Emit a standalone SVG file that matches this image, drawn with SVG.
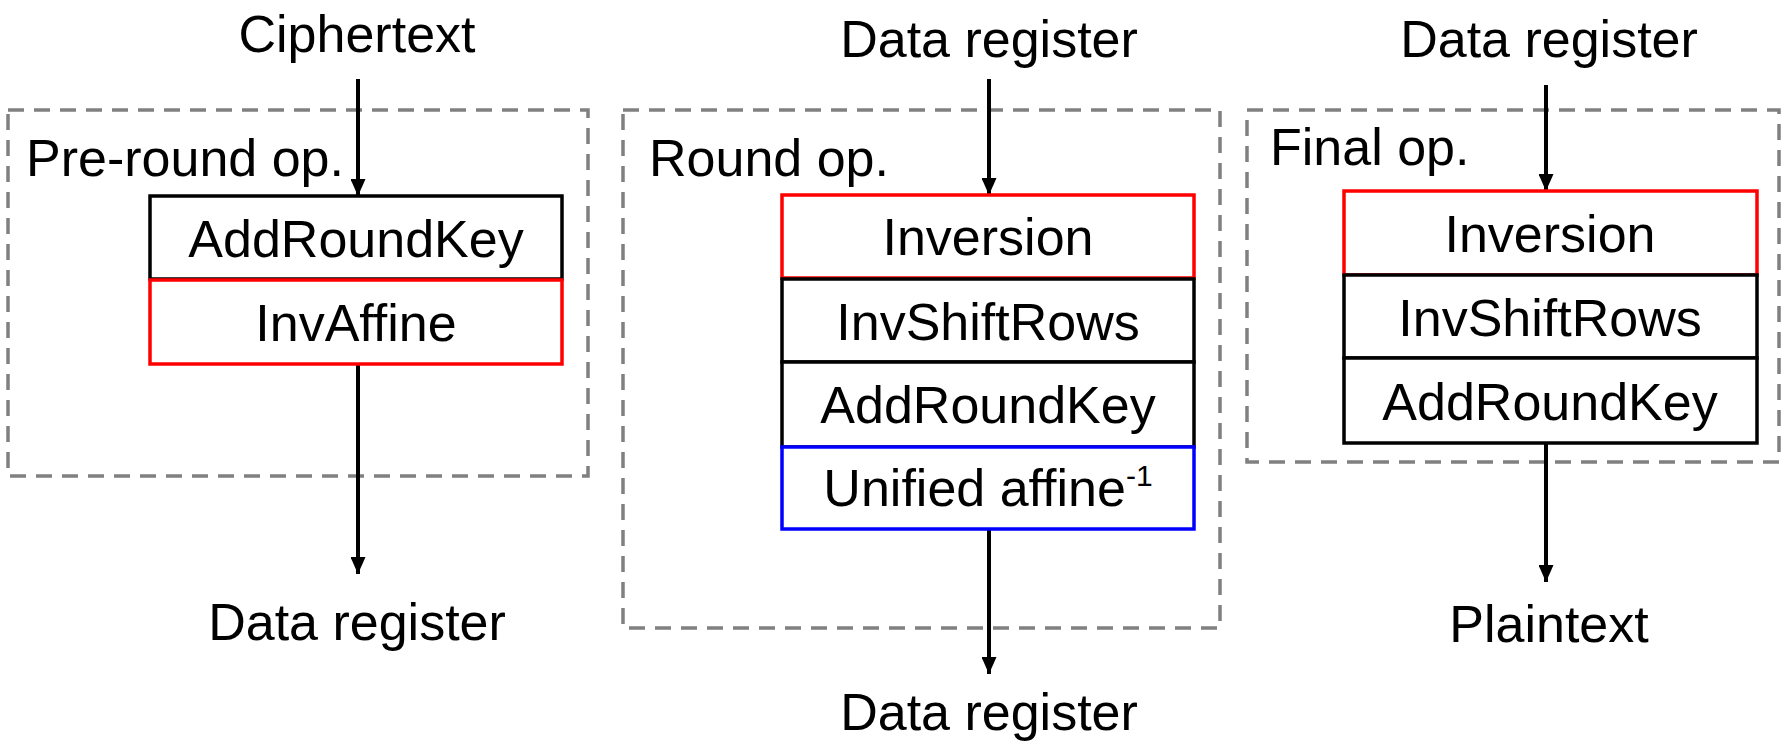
<svg xmlns="http://www.w3.org/2000/svg" width="1783" height="741" viewBox="0 0 1783 741">
<style>
text{font-family:"Liberation Sans",Arial,sans-serif;font-size:52px;fill:#000}
.c{text-anchor:middle}
.frame{fill:none;stroke:#808080;stroke-width:3.5;stroke-dasharray:16 10}
.bk{fill:#fff;stroke:#000;stroke-width:3.5}
.rd{fill:#fff;stroke:#ff0000;stroke-width:3.5}
.bl{fill:#fff;stroke:#0000ff;stroke-width:3.5}
.arr{stroke:#000;stroke-width:4;fill:none;marker-end:url(#ah)}
</style>
<defs>
<marker id="ah" markerUnits="userSpaceOnUse" markerWidth="17" markerHeight="15" refX="17" refY="7.5" orient="auto" viewBox="0 0 17 15">
<path d="M0,0 L17,7.5 L0,15 Z" fill="#000"/>
</marker>
</defs>
<g id="frames">
<rect id="pre-frame" class="frame" x="8" y="110" width="580" height="366"/>
<rect id="round-frame" class="frame" x="623" y="110" width="597" height="518"/>
<rect id="final-frame" class="frame" x="1247" y="110" width="532" height="352"/>
<text x="26" y="176">Pre-round op.</text>
<text x="649" y="176">Round op.</text>
<text x="1270" y="165">Final op.</text>
</g>
<g id="connectors">
<line class="arr" x1="358" y1="79" x2="358" y2="196"/>
<line class="arr" x1="358" y1="364" x2="358" y2="574"/>
<line class="arr" x1="989" y1="79" x2="989" y2="195"/>
<line class="arr" x1="989" y1="529" x2="989" y2="674"/>
<line class="arr" x1="1546" y1="85" x2="1546" y2="191"/>
<line class="arr" x1="1546" y1="443" x2="1546" y2="582"/>
</g>
<g id="io-labels">
<text id="ciphertext" class="c" x="357" y="52">Ciphertext</text>
<text id="dr-out-1" class="c" x="357" y="640">Data register</text>
<text id="dr-in-2" class="c" x="989" y="57">Data register</text>
<text id="dr-out-2" class="c" x="989" y="730">Data register</text>
<text id="dr-in-3" class="c" x="1549" y="57">Data register</text>
<text id="plaintext" class="c" x="1549" y="642">Plaintext</text>
</g>
<g id="pre-addroundkey"><rect class="bk" x="150" y="196" width="412" height="83"/><text class="c" x="356" y="257">AddRoundKey</text></g>
<g id="pre-invaffine"><rect class="rd" x="150" y="280" width="412" height="84"/><text class="c" x="356" y="341">InvAffine</text></g>
<g id="round-inversion"><rect class="rd" x="782" y="195" width="412" height="83"/><text class="c" x="988" y="255">Inversion</text></g>
<g id="round-invshiftrows"><rect class="bk" x="782" y="279" width="412" height="83"/><text class="c" x="988" y="340">InvShiftRows</text></g>
<g id="round-addroundkey"><rect class="bk" x="782" y="362" width="412" height="85"/><text class="c" x="988" y="423">AddRoundKey</text></g>
<g id="round-unified"><rect class="bl" x="782" y="447" width="412" height="82"/><text class="c" x="988" y="506">Unified affine<tspan font-size="30" dy="-20">-1</tspan></text></g>
<g id="final-inversion"><rect class="rd" x="1344" y="191" width="413" height="84"/><text class="c" x="1550" y="252">Inversion</text></g>
<g id="final-invshiftrows"><rect class="bk" x="1344" y="275" width="413" height="83"/><text class="c" x="1550" y="336">InvShiftRows</text></g>
<g id="final-addroundkey"><rect class="bk" x="1344" y="358" width="413" height="85"/><text class="c" x="1550" y="420">AddRoundKey</text></g>
</svg>
